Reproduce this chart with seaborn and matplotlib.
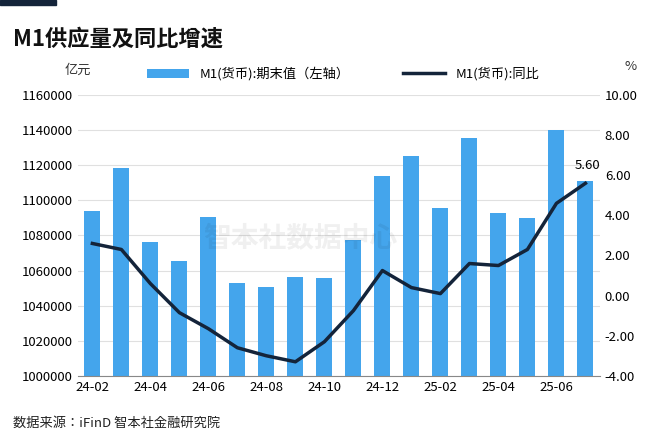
import matplotlib
matplotlib.use("Agg")
import matplotlib.pyplot as plt
from matplotlib import font_manager
import seaborn as sns
import pandas as pd
import numpy as np

names = {f.name for f in font_manager.fontManager.ttflist}
cjk = next((n for n in ["Noto Sans CJK SC", "Noto Sans CJK JP", "Noto Sans CJK TC", "Noto Sans CJK KR"] if n in names), None)
if cjk is None:
    cjk = next((n for n in names if "Sans" in n and "CJK" in n), "Noto Sans CJK SC")
plt.rcParams["font.family"] = "sans-serif"
plt.rcParams["font.sans-serif"] = [cjk, "DejaVu Sans"]
plt.rcParams["axes.unicode_minus"] = False

months = ["24-02","24-03","24-04","24-05","24-06","24-07","24-08","24-09","24-10",
          "24-11","24-12","25-01","25-02","25-03","25-04","25-05","25-06","25-07"]
m1_level = [1094000,1118500,1076300,1065500,1090600,1053000,1050700,1056400,1055800,
            1077500,1114000,1125300,1095700,1135600,1092900,1090000,1140200,1111100]
m1_yoy = [2.6,2.3,0.6,-0.85,-1.65,-2.6,-3.0,-3.3,-2.3,-0.75,1.25,0.4,0.1,1.6,1.5,2.3,4.6,5.6]
left_ticks = list(range(1000000, 1160001, 20000))
right_ticks = [-4, -2, 0, 2, 4, 6, 8, 10]

df = pd.DataFrame({"month": months, "level": m1_level, "yoy": m1_yoy})

fig = plt.figure(figsize=(6.6, 4.36), dpi=100)
ax = fig.add_axes([0.118, 0.138, 0.791, 0.644])
sns.barplot(data=df, x="month", y="level", color="#44a5ec", width=0.55, ax=ax,
            saturation=1, label="M1(货币):期末值（左轴）", zorder=2)
ax.set_ylim(1000000, 1160000)
ax.set_yticks(left_ticks)
ax.set_yticklabels([str(t) for t in left_ticks], fontsize=9.5)
ax.grid(axis="y", color="#e0e0e0", lw=0.8, zorder=0)
ax.set_xlabel(""); ax.set_ylabel("")
ax.set_xticks(range(0, len(months), 2))
ax.set_xticklabels(months[::2], fontsize=9.5)
ax.tick_params(length=0)
ax.set_xlim(-0.5, len(months) - 0.5)
for s in ["top", "right", "left"]:
    ax.spines[s].set_visible(False)
ax.spines["bottom"].set_color("#888888")

ax2 = ax.twinx()
sns.lineplot(x=np.arange(len(months)), y=m1_yoy, color="#14243a", lw=2.5, ax=ax2,
             label="M1(货币):同比")
ax2.set_ylim(-4, 10)
ax2.set_yticks(right_ticks)
ax2.set_yticklabels([f"{t:.2f}" for t in right_ticks], fontsize=9.5)
ax2.tick_params(length=0)
for s in ["top", "right", "left", "bottom"]:
    ax2.spines[s].set_visible(False)
ax2.annotate(f"{m1_yoy[-1]:.2f}", (len(months) - 1, m1_yoy[-1]), xytext=(-8, 10),
             textcoords="offset points", fontsize=9.5)

h1, l1 = ax.get_legend_handles_labels()
h2, l2 = ax2.get_legend_handles_labels()
for a in (ax, ax2):
    if a.get_legend() is not None:
        a.get_legend().remove()
fig.legend(h1 + h2, l1 + l2, loc="center", bbox_to_anchor=(0.52, 0.83), ncol=2,
           frameon=False, fontsize=9.5, handlelength=3.2, columnspacing=4)

fig.text(0.118, 0.83, "亿元", fontsize=9.5, color="#333333", ha="center")
fig.text(0.955, 0.84, "%", fontsize=9.5, color="#333333", ha="center")
fig.text(0.02, 0.895, "M1供应量及同比增速", fontsize=16, fontweight="bold", color="#111111")
fig.add_artist(plt.Rectangle((0.0, 0.988), 0.085, 0.012, color="#14243a", transform=fig.transFigure))
fig.text(0.02, 0.02, "数据来源：iFinD 智本社金融研究院", fontsize=9.5, color="#222222")
fig.text(0.455, 0.435, "智本社数据中心", fontsize=20, color="#000000", alpha=0.06,
         ha="center", fontweight="bold")

fig.savefig("out.png", dpi=100)
